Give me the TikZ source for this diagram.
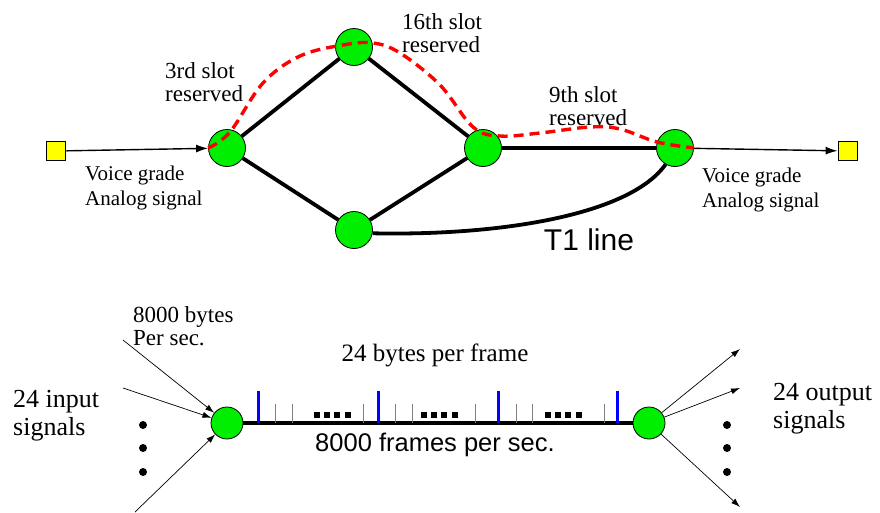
\documentclass[tikz,border=0pt]{standalone}
\usepackage{fontspec}
\setmainfont{Liberation Serif}
\setsansfont{Liberation Sans}
\usetikzlibrary{arrows.meta}
\definecolor{hubgreen}{RGB}{0,238,0}
\definecolor{boxyellow}{RGB}{255,255,0}
\definecolor{tickblue}{RGB}{0,0,255}
\tikzset{
  hub/.style={circle,draw=black,line width=0.8pt,fill=hubgreen,minimum size=37pt,inner sep=0pt},
  smallhub/.style={hub,minimum size=32pt},
  term/.style={rectangle,draw=black,line width=1.8pt,fill=boxyellow,minimum size=19pt,inner sep=0pt},
  trunk/.style={line width=3.8pt},
  resv/.style={red,line width=3.4pt,dash pattern=on 10pt off 6pt},
  feed/.style={line width=1.4pt,-{Latex[length=12pt,width=8pt]}},
  sig/.style={line width=0.7pt,-{Latex[length=9pt,width=6pt]}},
  lbl/.style={font=\fontsize{23}{23}\selectfont,align=left,inner sep=0pt}
}
\begin{document}
\begin{tikzpicture}[x=1pt,y=-1pt]
  \useasboundingbox (0,0) rectangle (880,512);
  \node[hub] (a) at (227,148) {};
  \node[hub] (b) at (354,47) {};
  \node[hub] (c) at (354,230) {};
  \node[hub] (d) at (483,148) {};
  \node[hub] (e) at (675,148) {};
  \node[term] (src) at (56,151) {};
  \node[term] (dst) at (848,151) {};
  \draw[trunk] (a) -- (b);
  \draw[trunk] (a) -- (c);
  \draw[trunk] (b) -- (d);
  \draw[trunk] (c) -- (d);
  \draw[trunk] (d) -- (e);
  \draw[trunk] (c.-10) .. controls (500,236) and (630,215) .. (e.-120);
  \draw[feed] (src) -- (a);
  \draw[feed] (e) -- (dst);
  \draw[resv] plot[smooth,tension=0.6] coordinates {(a.west) (230,132) (263,83) (300,56) (343,45) (373,43) (400,53) (440,85) (473,127) (500,136) (540,133) (590,127) (620,129) (657,142) (e.east)};
  \node[lbl,anchor=west] (slot3) at (165,82) {3rd slot\\reserved};
  \node[lbl,anchor=west] (slot16) at (402,33) {16th slot\\reserved};
  \node[lbl,anchor=west] (slot9) at (549,106) {9th slot\\reserved};
  \node[lbl,anchor=west,font=\fontsize{21}{25}\selectfont] (vgin) at (85,188) {Voice grade\\Analog signal};
  \node[lbl,anchor=west,font=\fontsize{21}{25}\selectfont] (vgout) at (702,190) {Voice grade\\Analog signal};
  \node[font=\sffamily\fontsize{30}{32}\selectfont,inner sep=0pt] (t1) at (589,240) {T1 line};
  % T1 frame
  \node[smallhub] (l) at (227,423) {};
  \node[smallhub] (r) at (649,423) {};
  \draw[line width=4.5pt] (l) -- (r);
  \foreach \x in {275,292,363,395,412,475,516,532,604} {
    \draw[gray,line width=1pt] (\x,423) -- (\x,404);
  }
  \foreach \x in {258,378,498,617} {
    \draw[tickblue,line width=3pt] (\x,423) -- (\x,391);
  }
  \foreach \g in {332,439,563} {
    \foreach \k in {-15.5,-5.2,5.2,15.5} {
      \fill ({\g+\k-3},412) rectangle ({\g+\k+3},418);
    }
  }
  \node[lbl,anchor=west] (rate) at (133,326) {8000 bytes\\Per sec.};
  \node[lbl,anchor=west,font=\fontsize{26}{28}\selectfont] (inputs) at (13,416) {24 input\\signals};
  \node[lbl,anchor=west,font=\fontsize{26}{28}\selectfont] (outputs) at (773,409) {24 output\\signals};
  \node[font=\fontsize{25}{26}\selectfont,inner sep=0pt] (perframe) at (435,355) {24 bytes per frame};
  \node[font=\sffamily\fontsize{25.5}{26}\selectfont,inner sep=0pt] (perframesec) at (435,445) {8000 frames per sec.};
  \coordinate (in1) at (123,340);
  \coordinate (in2) at (123,388);
  \coordinate (in3) at (135,512);
  \coordinate (out1) at (740,349);
  \coordinate (out2) at (740,388);
  \coordinate (out3) at (740,507);
  \foreach \p in {in1,in2,in3} {
    \draw[sig] (\p) -- (l);
  }
  \foreach \p in {out1,out2,out3} {
    \draw[sig] (r) -- (\p);
  }
  \foreach \y in {425,448,472} {
    \fill (143,\y) circle (4pt);
    \fill (727,\y) circle (4pt);
  }
\end{tikzpicture}
\end{document}
